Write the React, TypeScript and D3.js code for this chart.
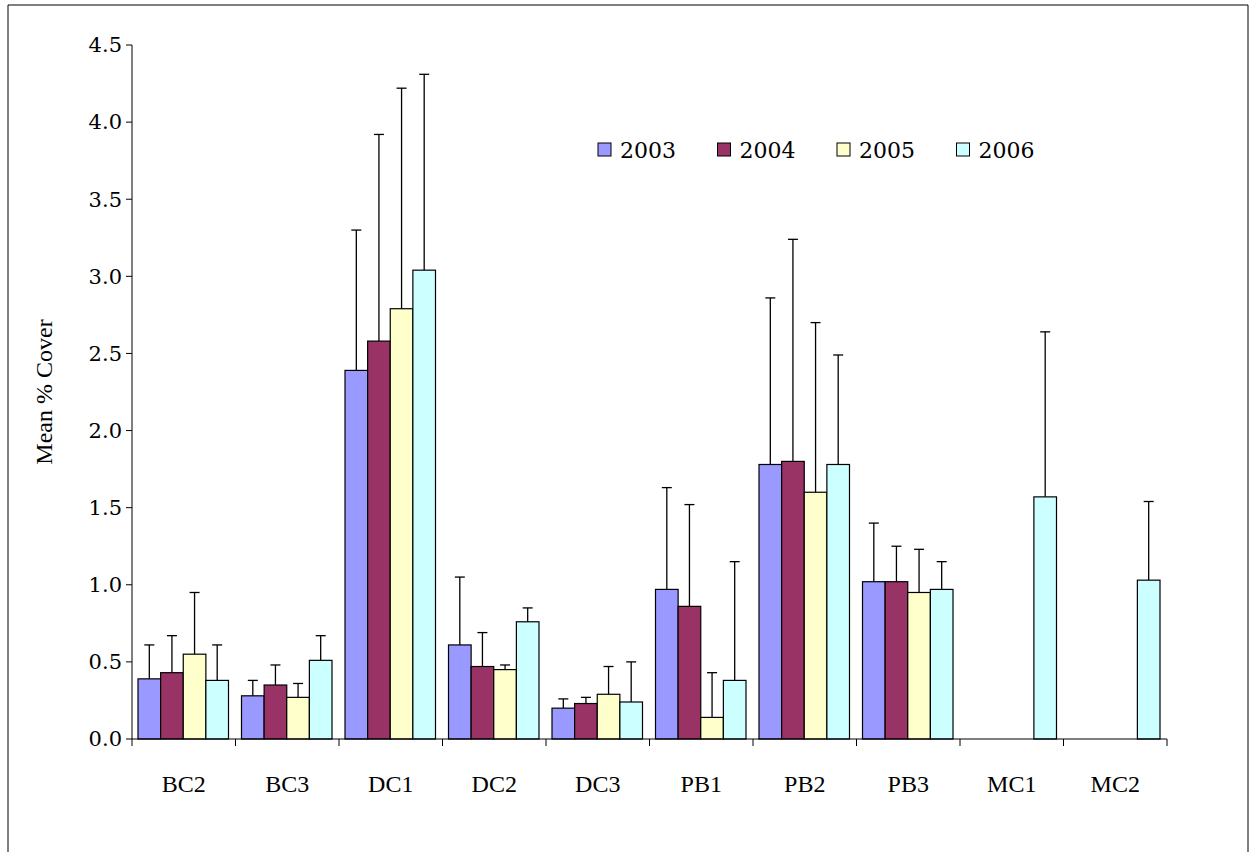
import * as d3 from "d3";

const sites = ["BC2", "BC3", "DC1", "DC2", "DC3", "PB1", "PB2", "PB3", "MC1", "MC2"];
const years = ["2003", "2004", "2005", "2006"];
const colors = ["#9999ff", "#993366", "#ffffcc", "#ccffff"];
// mean per year, per site (null = no data)
const means: (number | null)[][] = [
  [0.39, 0.28, 2.39, 0.61, 0.2, 0.97, 1.78, 1.02, null, null],
  [0.43, 0.35, 2.58, 0.47, 0.23, 0.86, 1.8, 1.02, null, null],
  [0.55, 0.27, 2.79, 0.45, 0.29, 0.14, 1.6, 0.95, null, null],
  [0.38, 0.51, 3.04, 0.76, 0.24, 0.38, 1.78, 0.97, 1.57, 1.03],
];
// top of error bar
const upper: (number | null)[][] = [
  [0.61, 0.38, 3.3, 1.05, 0.26, 1.63, 2.86, 1.4, null, null],
  [0.67, 0.48, 3.92, 0.69, 0.27, 1.52, 3.24, 1.25, null, null],
  [0.95, 0.36, 4.22, 0.48, 0.47, 0.43, 2.7, 1.23, null, null],
  [0.61, 0.67, 4.31, 0.85, 0.5, 1.15, 2.49, 1.15, 2.64, 1.54],
];
const yTicks = [0, 0.5, 1, 1.5, 2, 2.5, 3, 3.5, 4, 4.5];

export default function App() {
  const left = 132, right = 1167, top = 45, bottom = 739;
  const x = d3.scaleBand().domain(sites).range([left, right]);
  const inner = d3.scaleBand().domain(years).range([6, x.bandwidth() - 7]);
  const y = d3.scaleLinear().domain([0, 4.5]).range([bottom, top]);
  const ts = { fontFamily: "'Liberation Serif', serif" };
  const ds = { fontFamily: "'DejaVu Serif', serif" };

  return (
    <svg width={1252} height={852} style={{ position: "absolute", left: 0, top: 0 }}>
      <rect width={1252} height={852} fill="white" />
      <path d="M8,852 V5 H1248 V852" fill="none" stroke="#000" strokeWidth={1} />
      {years.map((yr, j) =>
        sites.map((s, i) => {
          const m = means[j][i];
          const u = upper[j][i];
          if (m == null || u == null) return null;
          const bx = (x(s) as number) + (inner(yr) as number);
          const w = inner.bandwidth();
          const cx = bx + w / 2;
          return (
            <g key={yr + s}>
              <line x1={cx} x2={cx} y1={y(m)} y2={y(u)} stroke="#000" strokeWidth={1.3} />
              <line x1={cx - 5} x2={cx + 5} y1={y(u)} y2={y(u)} stroke="#000" strokeWidth={1.3} />
              <rect x={bx} y={y(m)} width={w} height={bottom - y(m)} fill={colors[j]} stroke="#000" strokeWidth={1.2} />
            </g>
          );
        })
      )}
      <line x1={left} x2={left} y1={top} y2={bottom} stroke="#000" />
      <line x1={left} x2={right} y1={bottom} y2={bottom} stroke="#000" />
      {yTicks.map((t) => (
        <g key={t}>
          <line x1={left - 6} x2={left} y1={y(t)} y2={y(t)} stroke="#000" />
          <text x={left - 10} y={y(t)} dy="0.35em" textAnchor="end" fontSize={21} style={ds}>
            {t.toFixed(1)}
          </text>
        </g>
      ))}
      {[...sites.map((s) => x(s) as number), right].map((p) => (
        <line key={p} x1={p} x2={p} y1={bottom} y2={bottom + 7} stroke="#000" />
      ))}
      {sites.map((s) => (
        <text key={s} x={(x(s) as number) + x.bandwidth() / 2} y={792} textAnchor="middle" fontSize={24} style={ts}>
          {s}
        </text>
      ))}
      <text transform={`translate(52,${(top + bottom) / 2}) rotate(-90)`} textAnchor="middle" fontSize={24} style={ts}>
        Mean % Cover
      </text>
      {years.map((yr, j) => (
        <g key={yr} transform={`translate(${598 + j * 119.5},143)`}>
          <rect width={13} height={13} fill={colors[j]} stroke="#000" strokeWidth={1} />
          <text x={22} y={15} fontSize={22} style={ds}>
            {yr}
          </text>
        </g>
      ))}
    </svg>
  );
}
